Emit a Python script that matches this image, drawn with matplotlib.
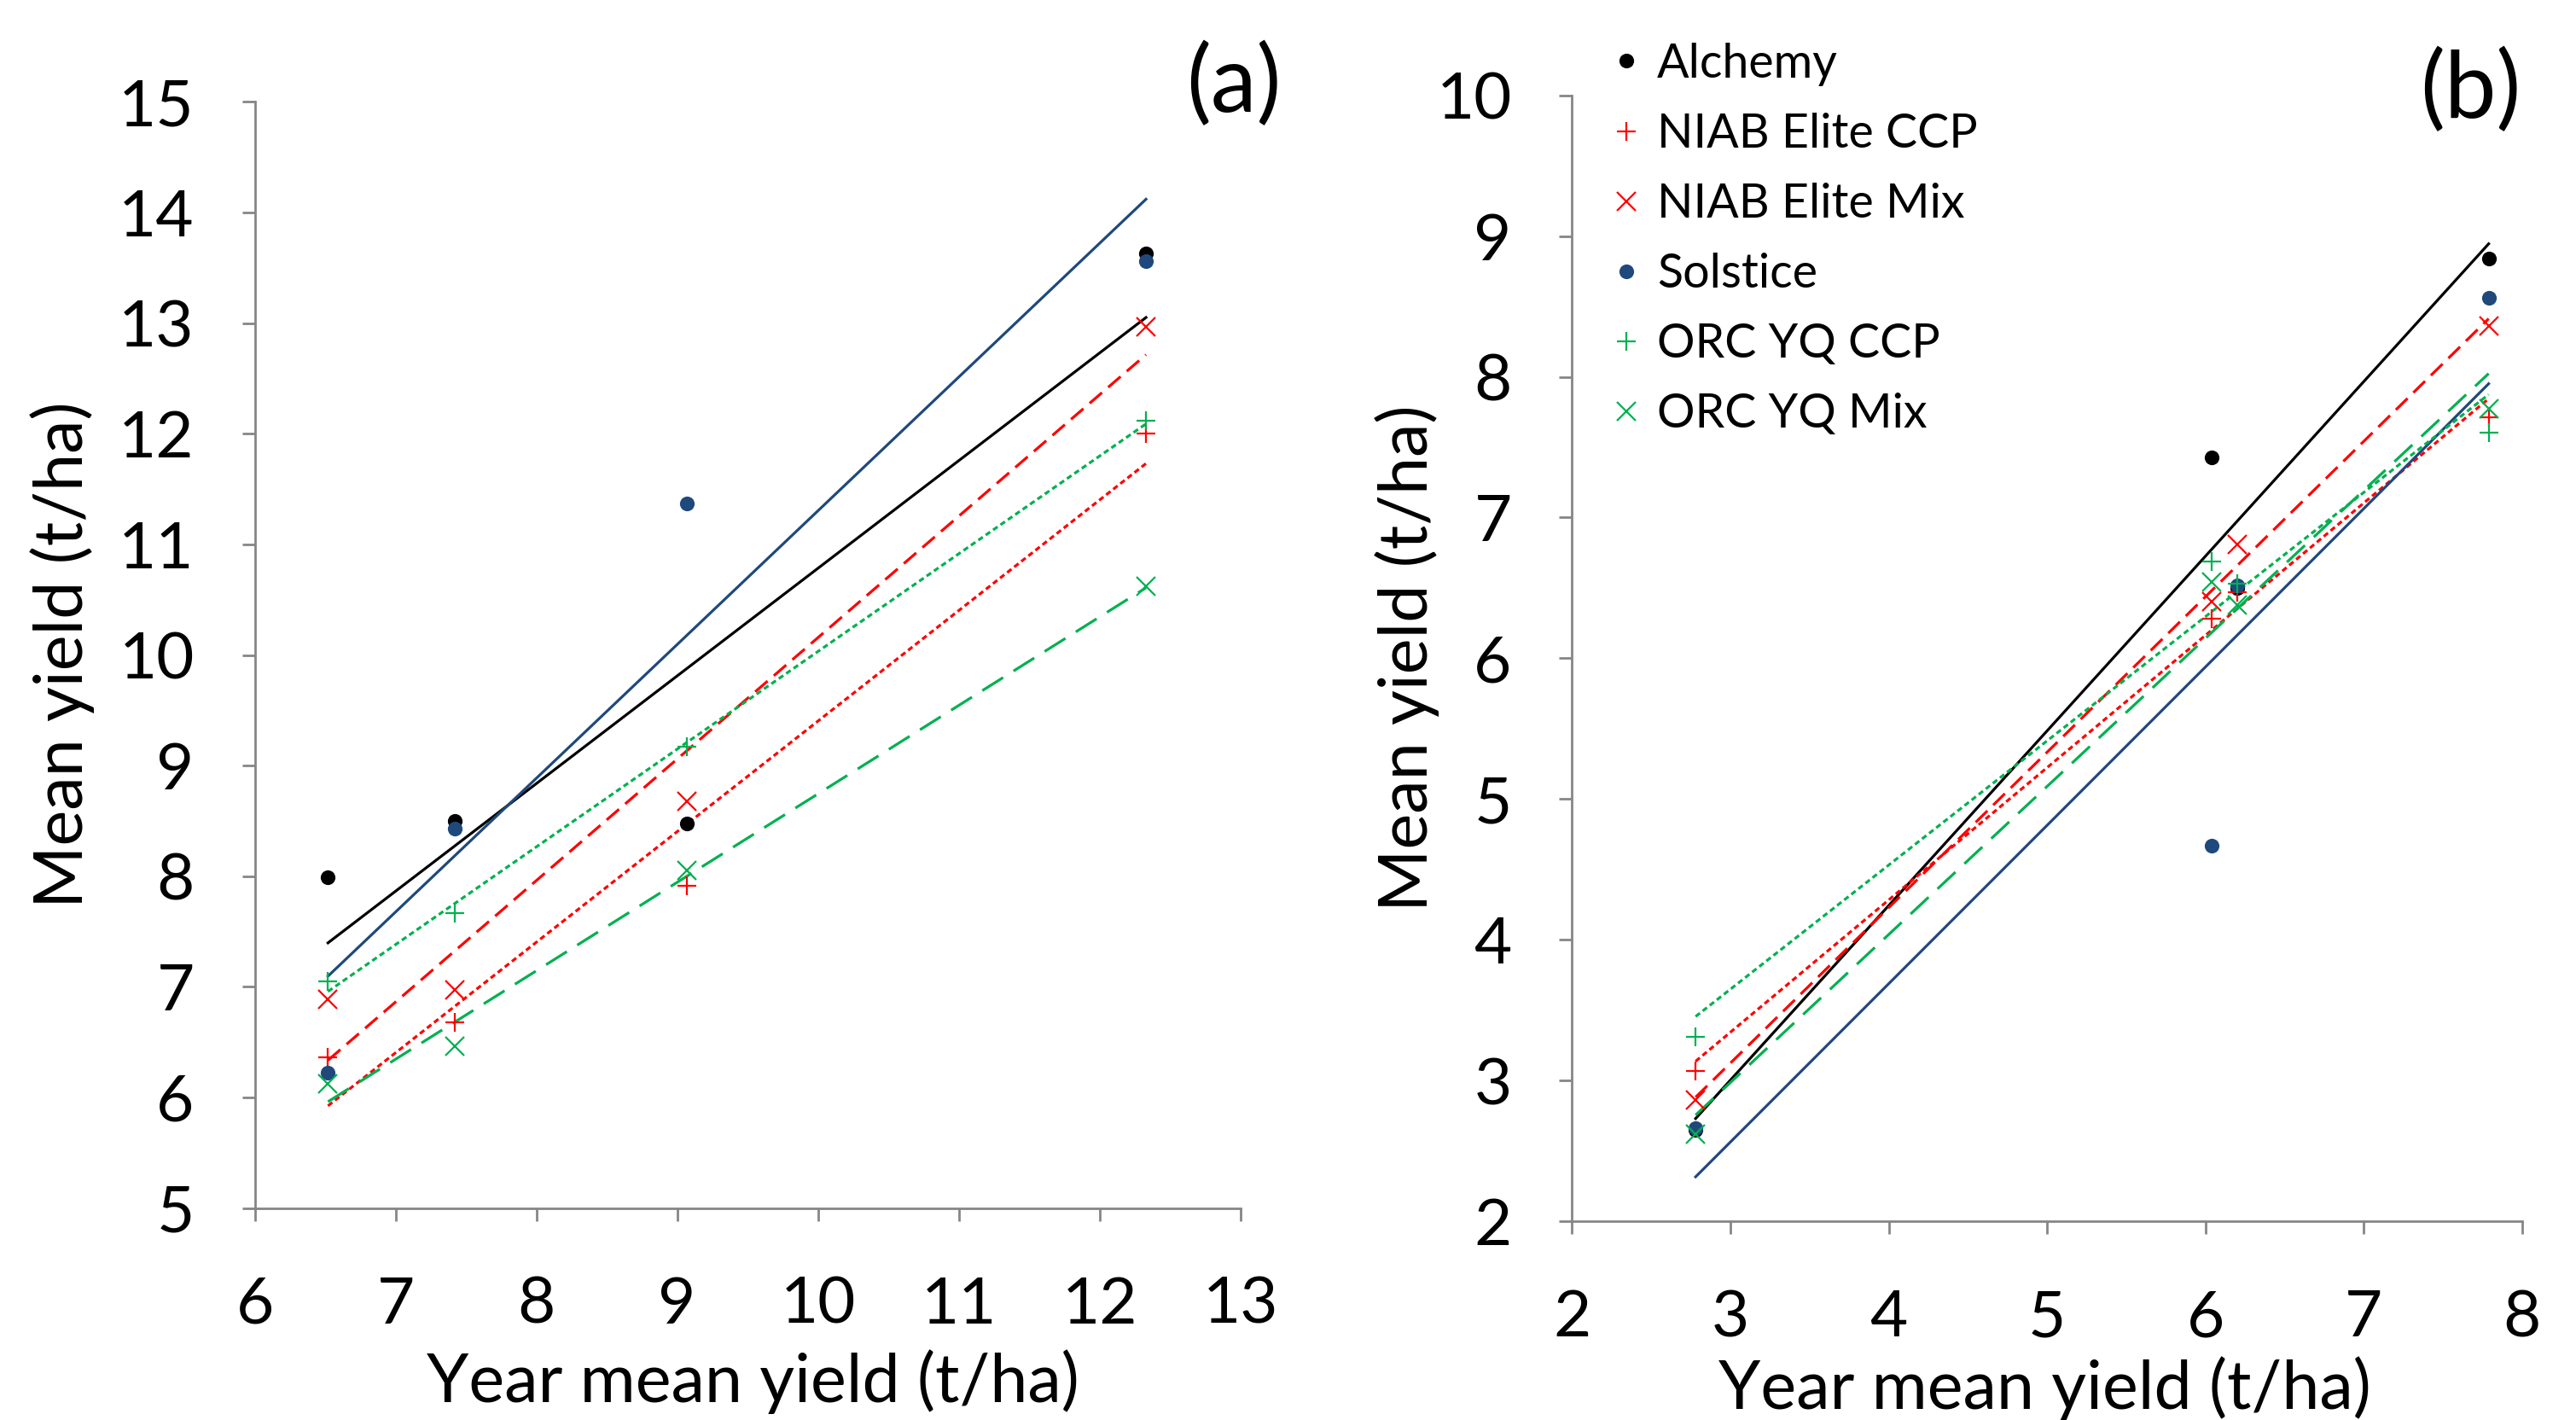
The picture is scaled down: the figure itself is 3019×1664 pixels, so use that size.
import numpy as np
import matplotlib.pyplot as plt
from matplotlib.lines import Line2D

plt.rcParams['font.family'] = ['Lato', 'DejaVu Sans']

names = ["Alchemy", "NIAB Elite CCP", "NIAB Elite Mix", "Solstice", "ORC YQ CCP", "ORC YQ Mix"]
colors = ["#000000", "#FF0000", "#FF0000", "#1F497D", "#00B050", "#00B050"]
markers = ["o", "+", "x", "o", "+", "x"]
dashes = [None, (2, 1.3), (6, 3), None, (2, 1.3), (9, 4.5)]

# panel (a)
year_a = [6.52, 7.42, 9.07, 12.33]
alchemy_a = [7.99, 8.50, 8.48, 13.63]
niab_ccp_a = [6.36, 6.68, 7.91, 12.00]
niab_mix_a = [6.89, 6.97, 8.68, 12.97]
solstice_a = [6.22, 8.43, 11.37, 13.56]
orc_ccp_a = [7.05, 7.67, 9.17, 12.12]
orc_mix_a = [6.12, 6.46, 8.05, 10.62]

# panel (b)
year_b = [2.78, 6.04, 6.20, 7.79]
alchemy_b = [2.65, 7.43, 6.50, 8.84]
niab_ccp_b = [3.07, 6.28, 6.47, 7.71]
niab_mix_b = [2.86, 6.40, 6.81, 8.36]
solstice_b = [2.66, 4.67, 6.52, 8.56]
orc_ccp_b = [3.31, 6.69, 6.53, 7.60]
orc_mix_b = [2.62, 6.54, 6.38, 7.77]

series_a = [alchemy_a, niab_ccp_a, niab_mix_a, solstice_a, orc_ccp_a, orc_mix_a]
series_b = [alchemy_b, niab_ccp_b, niab_mix_b, solstice_b, orc_ccp_b, orc_mix_b]

SPINE = "#868686"


def marker_style(c, m):
    if m == "o":
        return dict(ls="none", marker="o", ms=6.2, color=c, mew=0)
    return dict(ls="none", marker=m, ms=7.8, color=c, mew=0.8)


def draw_panel(ax, x, series):
    x = np.array(x)
    for y, c, m, d in zip(series, colors, markers, dashes):
        # linear trendline, like Excel
        k, b = np.polyfit(x, y, 1)
        xs = np.array([x.min(), x.max()])
        line, = ax.plot(xs, k * xs + b, color=c, lw=1.15, zorder=2)
        if d is not None:
            line.set_dashes(d)
        ax.plot(x, y, zorder=3, **marker_style(c, m))

    for s in ["top", "right"]:
        ax.spines[s].set_visible(False)
    for s in ["left", "bottom"]:
        ax.spines[s].set_color(SPINE)
        ax.spines[s].set_linewidth(1.0)
    ax.tick_params(direction="out", length=5.5, width=1.0, color=SPINE,
                   labelsize=27.5, pad=20)
    ax.tick_params(axis="x", pad=23)
    ax.set_xlabel("Year mean yield (t/ha)", fontsize=28.5)
    ax.set_ylabel("Mean yield (t/ha)", fontsize=28.5)


fig = plt.figure(figsize=(15.095, 8.32), dpi=200)

ax1 = fig.add_axes([0.0989, 0.1493, 0.3826, 0.7789])
draw_panel(ax1, year_a, series_a)
ax1.set_xlim(6, 13)
ax1.set_ylim(5, 15)
ax1.set_xticks(range(6, 14))
ax1.set_yticks(range(5, 16))
ax1.yaxis.set_label_coords(-0.162, 0.5)
ax1.xaxis.set_label_coords(0.505, -0.128)

ax2 = fig.add_axes([0.6103, 0.140, 0.3687, 0.7929])
draw_panel(ax2, year_b, series_b)
ax2.set_xlim(2, 8)
ax2.set_ylim(2, 10)
ax2.set_xticks(range(2, 9))
ax2.set_yticks(range(2, 11))
ax2.yaxis.set_label_coords(-0.14, 0.5)
ax2.xaxis.set_label_coords(0.498, -0.12)

fig.text(0.479, 0.94, "(a)", fontsize=39, ha="center", va="center")
fig.text(0.959, 0.936, "(b)", fontsize=39, ha="center", va="center")

handles = [Line2D([], [], **marker_style(c, m)) for c, m in zip(colors, markers)]
fig.legend(handles, names, loc="upper left", bbox_to_anchor=(0.624, 0.97),
           frameon=False, fontsize=20, handlelength=0.8, handletextpad=0.25,
           labelspacing=0.56, borderpad=0, borderaxespad=0)

fig.savefig("out.png", dpi=200)
